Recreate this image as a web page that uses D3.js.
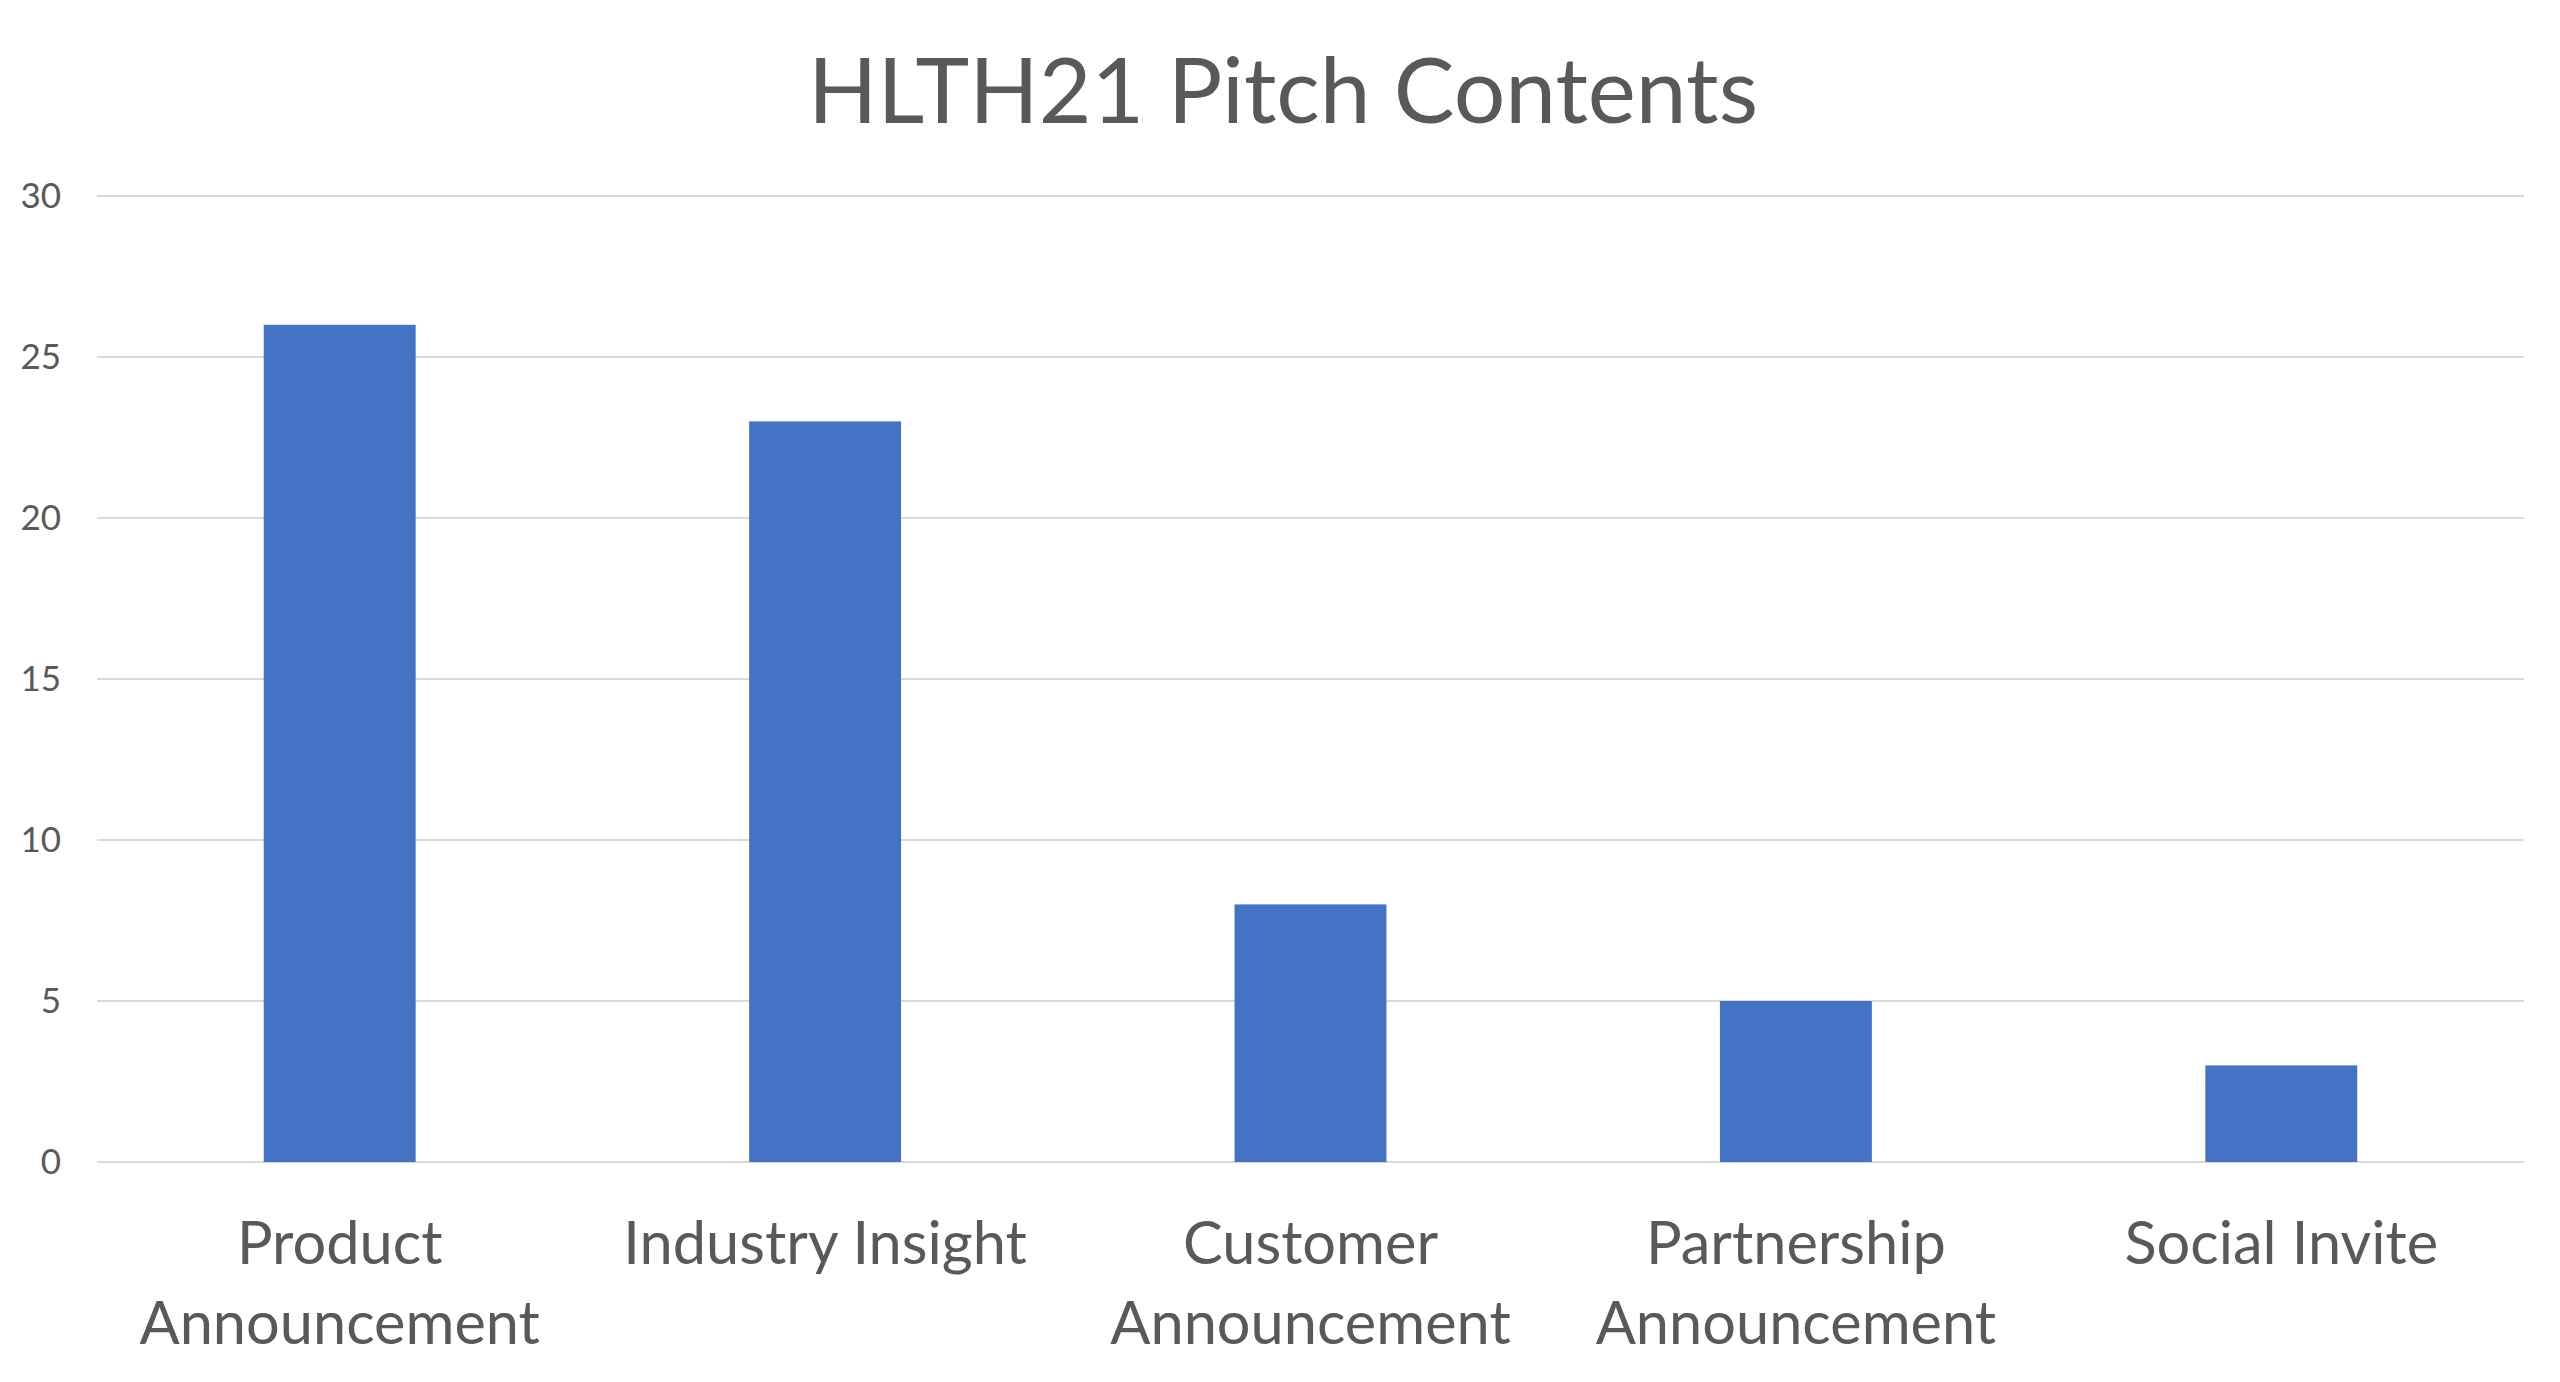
<!DOCTYPE html>
<meta charset="utf-8">
<style>
    body { margin: 0; background: #fff; }
    text { font-family: Lato, "Open Sans", sans-serif; fill: #595959; }
    .grid line { stroke: #d9d9d9; stroke-width: 2px; }
</style>
<svg width="2560" height="1382"></svg>
<script src="https://d3js.org/d3.v7.min.js"></script>
<script>
    // chart data
    const categories = ["Product Announcement", "Industry Insight", "Customer Announcement",
        "Partnership Announcement", "Social Invite"];
    const counts = [26, 23, 8, 5, 3];
    const yTicks = [0, 5, 10, 15, 20, 25, 30];
    const title = "HLTH21 Pitch Contents";

    let svg = d3.select("svg"),
        width = +svg.attr("width"),
        height = +svg.attr("height");

    const margin = {left: 97, right: 36, top: 196, bottom: 220};

    let x = d3.scaleBand()
        .domain(categories)
        .range([margin.left, width - margin.right])
        .paddingInner(0.687)
        .paddingOuter(0.3435);

    let y = d3.scaleLinear()
        .domain([0, 30])
        .range([height - margin.bottom, margin.top]);

    // title
    svg.append("text")
        .attr("x", 1283)
        .attr("y", 123)
        .attr("text-anchor", "middle")
        .style("font-size", "91px")
        .text(title);

    // gridlines
    svg.append("g")
        .attr("class", "grid")
        .selectAll("line")
        .data(yTicks)
        .enter().append("line")
        .attr("x1", margin.left)
        .attr("x2", width - margin.right)
        .attr("y1", d => y(d))
        .attr("y2", d => y(d));

    // y axis labels
    let yAxis = svg.append("g")
        .attr("transform", "translate(61,0)")
        .call(d3.axisLeft(y).tickValues(yTicks).tickSize(0).tickPadding(0));
    yAxis.select(".domain").remove();
    yAxis.selectAll("text")
        .style("font-size", "35px")
        .attr("fill", "#595959");

    // bars
    svg.append("g")
        .selectAll("rect")
        .data(counts)
        .enter().append("rect")
        .attr("x", (d, i) => x(categories[i]))
        .attr("width", x.bandwidth())
        .attr("y", d => y(d))
        .attr("height", d => y(0) - y(d))
        .attr("fill", "#4472c4");

    // category labels, wrapped to the band width
    let xAxis = svg.append("g")
        .attr("transform", "translate(0," + y(0) + ")")
        .call(d3.axisBottom(x).tickSize(0).tickPadding(0));
    xAxis.select(".domain").remove();
    xAxis.selectAll("text")
        .style("font-size", "59.5px")
        .attr("fill", "#595959")
        .attr("y", 0)
        .attr("dy", null)
        .each(function(d) {
            let t = d3.select(this);
            let words = d.split(" ");
            t.text(null);
            let line = [];
            let lines = [];
            let probe = t.append("tspan");
            words.forEach(w => {
                line.push(w);
                probe.text(line.join(" "));
                if (probe.node().getComputedTextLength() > x.step() * 0.92 && line.length > 1) {
                    line.pop();
                    lines.push(line.join(" "));
                    line = [w];
                }
            });
            lines.push(line.join(" "));
            probe.remove();
            lines.forEach((l, i) => {
                t.append("tspan")
                    .attr("x", 0)
                    .attr("y", 102 + i * 80)
                    .text(l);
            });
        });
</script>
<body>
</body>
